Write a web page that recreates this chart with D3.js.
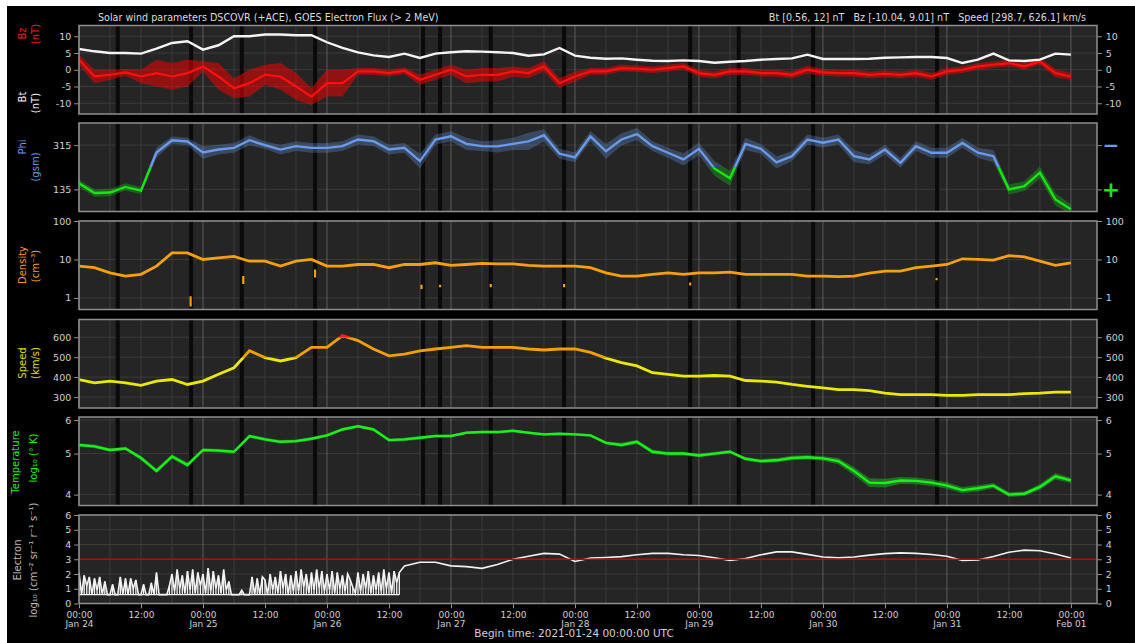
<!DOCTYPE html>
<html>
<head>
<meta charset="utf-8">
<script src="https://cdn.jsdelivr.net/npm/d3@7"></script>
<style>
  html, body { margin: 0; padding: 0; background: #ffffff; }
  svg { display: block; font-family: "DejaVu Sans", sans-serif; }
</style>
</head>
<body>
<svg id="chart" width="1135" height="643"></svg>
<script>
// ---- data: hours since 2021-01-24 00:00 UTC, sampled every 3 h ----
const sampleHours = d3.range(0, 193, 3);

const btValues = [6.2,5.5,5.0,5.0,4.8,6.3,8.0,8.5,6.0,7.3,
  10.0,10.0,10.5,10.5,10.3,10.3,8.2,6.5,5.2,4.3,
  3.8,4.8,3.5,4.8,5.2,5.5,5.4,5.2,5.0,4.2,
  4.6,6.5,4.2,3.6,3.3,3.4,3.0,2.7,2.6,2.8,
  2.6,2.1,2.4,2.6,3.0,3.2,3.4,4.5,3.2,3.2,
  3.2,3.3,3.6,3.7,3.8,3.8,3.5,2.0,3.0,4.8,
  2.8,2.6,3.0,4.8,4.5];

const bzValues = [3.0,-2.0,-1.5,-0.8,-2.0,-1.0,-2.0,-1.0,1.0,-2.0,
  -5.5,-4.0,-1.5,-2.0,-5.0,-8.0,-4.0,-4.0,-0.5,-0.5,
  -1.0,-0.3,-3.0,-1.5,0.0,-2.0,-1.5,-1.5,-0.5,-1.0,
  1.0,-4.0,-2.0,-0.5,-0.5,0.5,0.3,0.0,0.5,1.0,
  -1.0,-1.5,-0.5,-0.5,-1.0,-1.0,-1.5,0.0,-0.8,-1.0,
  -1.0,-1.5,-1.2,-1.5,-1.0,-2.0,-0.5,0.0,1.0,1.5,
  2.0,1.0,2.5,-1.0,-2.0];

const bzSpread = [1.5,2,1.5,1,2,4,4,4,1.5,4,
  3,4,3,4,4,2.5,4,4,1,1,
  1,1,1.5,1.5,1.5,2,2,2,1.5,1.5,
  1.5,1.5,1.5,1,1,1,1,1,1,1,
  1,1,1,1,1,1,1,1.2,1,1,
  1,1,1,1,1,1,1,1,1,1,
  1,1,1,1.2,1];

const phiValues = [160,120,122,145,130,285,335,330,285,297,
  304,335,315,297,311,304,304,311,338,331,
  297,304,250,338,351,320,311,310,320,330,
  355,280,265,351,290,338,360,311,284,257,
  300,220,180,320,300,245,270,338,325,338,
  270,257,297,243,311,284,284,324,284,270,
  135,148,203,94,54];

const phiSpread = [15,15,15,15,15,20,15,15,25,20,
  20,20,15,20,20,20,20,20,20,20,
  20,20,30,20,20,25,20,25,25,35,
  25,20,20,20,30,25,25,20,20,25,
  25,30,30,25,20,25,20,20,20,20,
  25,20,20,20,20,20,20,20,20,25,
  20,20,25,25,20];

const densityValues = [6.7,6.1,4.5,3.7,4.1,6.7,14.8,14.8,10,11,
  12,9,9,6.7,9,10,6.7,6.7,7.4,7.4,
  6.1,7.4,7.4,8.2,7,7.4,7.9,7.7,7.7,7,
  6.7,6.7,6.7,6.1,4.5,3.7,3.7,4.1,4.5,4.1,
  4.5,4.5,4.7,4.1,4.1,4.1,4.1,3.7,3.7,3.6,
  3.7,4.4,5.0,5.0,6.1,6.7,7.4,10.4,10,9.6,
  12.6,11.7,9,7,8.2];

// short low-density excursions: [hour, low, high]
const densityDrops = [[21.6,0.6,1.1],[31.8,2.3,3.7],[45.7,3.4,5.5],[66.3,1.7,2.2],
  [69.9,1.9,2.2],[79.7,1.9,2.3],[93.9,1.9,2.3],[118.3,2.1,2.5],[166.0,2.9,3.3]];

const speedValues = [388,371,380,371,359,380,388,363,380,414,
  447,532,498,481,498,549,549,608,583,541,
  507,515,532,541,549,558,549,549,549,541,
  536,541,541,524,495,473,456,422,414,405,
  405,408,405,383,380,375,363,354,346,337,
  337,332,320,312,312,312,308,308,312,312,
  312,317,320,325,325];

const tempValues = [5.24,5.2,5.1,5.14,4.88,4.55,4.92,4.7,5.1,5.08,
  5.05,5.5,5.4,5.33,5.35,5.42,5.52,5.7,5.8,5.7,
  5.38,5.4,5.45,5.5,5.5,5.6,5.62,5.62,5.66,5.6,
  5.55,5.57,5.55,5.52,5.3,5.24,5.33,5.05,5.0,5.0,
  4.95,5.0,5.05,4.86,4.8,4.82,4.88,4.9,4.87,4.8,
  4.55,4.27,4.26,4.32,4.31,4.27,4.2,4.1,4.14,4.2,
  4.0,4.02,4.17,4.42,4.32];

const tempSpread = [0.05,0.05,0.05,0.05,0.06,0.06,0.06,0.06,0.05,0.05,
  0.05,0.05,0.05,0.05,0.05,0.05,0.05,0.05,0.05,0.05,
  0.05,0.05,0.05,0.04,0.04,0.04,0.04,0.04,0.04,0.04,
  0.04,0.04,0.04,0.04,0.05,0.06,0.06,0.06,0.05,0.05,
  0.05,0.05,0.05,0.05,0.05,0.06,0.06,0.06,0.06,0.08,
  0.1,0.1,0.1,0.08,0.08,0.08,0.07,0.07,0.07,0.06,
  0.05,0.05,0.07,0.08,0.06];

// electron flux, bursty part at 0.5 h steps (0 h .. 62 h)
const electronBurstValues = [
  2.1,0.6,1.9,1.2,1.8,0.6,1.7,0.9,1.8,0.6,1.5,0.6,
  0.6,1.3,0.6,0.6,
  1.8,0.6,1.7,0.6,1.7,1.0,1.6,0.6,
  0.6,1.3,0.6,0.6,1.4,0.6,
  2.1,0.6,0.6,0.6,0.6,1.2,
  2.0,0.8,2.3,1.0,1.9,0.7,2.2,0.9,
  2.3,0.7,2.1,1.2,2.0,0.7,2.4,0.8,2.2,1.0,1.9,0.7,2.3,0.9,1.5,0.6,
  0.6,0.6,0.6,0.9,0.6,0.6,
  0.6,1.8,0.6,1.7,0.6,1.8,
  1.6,0.6,2.0,0.9,1.8,0.7,2.2,1.0,2.0,0.6,1.9,0.8,
  2.2,0.8,2.3,1.1,2.0,0.7,2.1,0.9,2.3,1.0,2.2,0.8,
  2.0,0.9,2.2,0.7,2.1,1.0,1.9,0.8,
  2.0,1.6,1.1,0.7,
  2.1,0.8,2.0,1.0,2.2,0.7,1.9,0.9,2.1,0.8,2.3,1.0,2.1,0.7,2.2,1.4,
  2.1];
const electronBurstHours = d3.range(0, 62.01, 0.5);
// electron flux, smooth part at 3 h steps (63 h .. 192 h)
const electronHours = d3.range(63, 193, 3);
const electronValues = [2.55,2.8,2.8,2.55,2.5,2.38,2.65,3.0,3.2,3.4,
  3.35,2.85,3.08,3.12,3.18,3.3,3.4,3.4,3.3,3.25,
  3.1,2.92,3.05,3.3,3.5,3.5,3.33,3.15,3.1,3.15,
  3.28,3.38,3.43,3.4,3.32,3.2,2.92,2.95,3.18,3.48,
  3.62,3.58,3.35,3.08];
const electronThreshold = 3;
const electronBaseline = 0.6;

// data gaps (hours)
const gapHours = [7.5,21.7,31.5,45.7,66.6,69.9,79.7,93.9,118.3,127.7,142.1,166.1];

const titleLeft = "Solar wind parameters DSCOVR (+ACE), GOES Electron Flux (> 2 MeV)";
const titleRight = "Bt [0.56, 12] nT   Bz [-10.04, 9.01] nT   Speed [298.7, 626.1] km/s";
const beginLabel = "Begin time: 2021-01-24 00:00:00 UTC";

// ---- layout ----
const svg = d3.select("#chart");
const t0 = Date.UTC(2021, 0, 24);
const HOUR = 3600e3;
const plotLeft = 79, plotRight = 1097, panelH = 88.5;
const x = d3.scaleUtc()
  .domain([new Date(t0), new Date(t0 + 197.05 * HOUR)])
  .range([plotLeft, plotRight]);
const xh = h => x(new Date(t0 + h * HOUR));
const plain = d => String(d);   // keeps ASCII hyphen for negatives

svg.append("rect").attr("x", 7).attr("y", 6).attr("width", 1128).attr("height", 637).attr("fill", "#000");

const panels = [
  { key: "mag",  top: 25.5, y: d3.scaleLinear().domain([-13.2, 13.2]), ticks: [-10, -5, 0, 5, 10] },
  { key: "phi",  top: 123,  y: d3.scaleLinear().domain([45, 405]),     ticks: [135, 315], noRightLabels: true },
  { key: "dens", top: 221,  y: d3.scaleLog().domain([0.5, 100]),        ticks: [1, 10, 100] },
  { key: "spd",  top: 319.5,y: d3.scaleLinear().domain([245, 689]),     ticks: [300, 400, 500, 600] },
  { key: "temp", top: 417,  y: d3.scaleLog().domain([3.77, 6.1]),       ticks: [4, 5, 6] },
  { key: "elec", top: 515,  y: d3.scaleLinear().domain([0, 6]),         ticks: [0, 1, 2, 3, 4, 5, 6], noGaps: true }
];
panels.forEach(p => p.y.range([p.top + panelH, p.top]));
const P = Object.fromEntries(panels.map(p => [p.key, p]));

const defs = svg.append("defs");
function clipRect(id, y0, y1) {
  defs.append("clipPath").attr("id", id).append("rect")
    .attr("x", plotLeft).attr("y", Math.min(y0, y1))
    .attr("width", plotRight - plotLeft).attr("height", Math.abs(y1 - y0));
  return `url(#${id})`;
}

const gridHours = d3.range(0, 197, 6);

panels.forEach(p => {
  const g = svg.append("g");
  g.append("rect").attr("x", plotLeft).attr("y", p.top).attr("width", plotRight - plotLeft)
    .attr("height", panelH).attr("fill", "#252525");
  p.clip = clipRect("clip-" + p.key, p.top, p.top + panelH);
  g.selectAll(".hg").data(p.ticks).join("line")
    .attr("x1", plotLeft).attr("x2", plotRight)
    .attr("y1", d => p.y(d)).attr("y2", d => p.y(d))
    .attr("stroke", "#3b3b3b").attr("stroke-width", 1);
  g.selectAll(".vg").data(gridHours).join("line")
    .attr("x1", d => xh(d)).attr("x2", d => xh(d))
    .attr("y1", p.top).attr("y2", p.top + panelH)
    .attr("stroke", d => d % 24 === 0 ? "#5c5c5c" : "#3b3b3b").attr("stroke-width", 1);
  if (!p.noGaps) {
    g.selectAll(".gap").data(gapHours).join("rect")
      .attr("x", d => xh(d) - 2).attr("width", 4)
      .attr("y", p.top).attr("height", panelH)
      .attr("fill", "#0a0a0a");
  }
  p.layer = svg.append("g").attr("clip-path", p.clip);
});

const pts = (vals, hours = sampleHours) => vals.map((v, i) => [hours[i], v]);

// ---- Bz / Bt ----
{
  const p = P.mag;
  const band = d3.area().x(d => xh(d[0])).y0(d => p.y(d[1] - d[2])).y1(d => p.y(d[1] + d[2]));
  p.layer.append("path").datum(bzValues.map((v, i) => [sampleHours[i], v, bzSpread[i]]))
    .attr("d", band).attr("fill", "#ff0000").attr("opacity", 0.5);
  p.layer.append("path").datum(pts(bzValues))
    .attr("d", d3.line().x(d => xh(d[0])).y(d => p.y(d[1])))
    .attr("fill", "none").attr("stroke", "#ff1010").attr("stroke-width", 2.2);
  p.layer.append("path").datum(pts(btValues))
    .attr("d", d3.line().x(d => xh(d[0])).y(d => p.y(d[1])))
    .attr("fill", "none").attr("stroke", "#f4f4f4").attr("stroke-width", 2.4);
}

// ---- Phi ----
{
  const p = P.phi;
  const split = p.y(225);
  const parts = [
    { clip: clipRect("phi-neg", p.top, split), color: "#6b9ae8" },
    { clip: clipRect("phi-pos", split, p.top + panelH), color: "#18e418" }
  ];
  const band = d3.area().x(d => xh(d[0])).y0(d => p.y(d[1] - d[2])).y1(d => p.y(d[1] + d[2]));
  const line = d3.line().x(d => xh(d[0])).y(d => p.y(d[1]));
  const bandData = phiValues.map((v, i) => [sampleHours[i], v, phiSpread[i]]);
  parts.forEach(part => {
    const g = p.layer.append("g").attr("clip-path", part.clip);
    g.append("path").datum(bandData).attr("d", band).attr("fill", part.color).attr("opacity", 0.3);
    g.append("path").datum(pts(phiValues)).attr("d", line)
      .attr("fill", "none").attr("stroke", part.color).attr("stroke-width", 2.4);
  });
}

// ---- Density ----
{
  const p = P.dens;
  p.layer.append("path").datum(pts(densityValues))
    .attr("d", d3.line().x(d => xh(d[0])).y(d => p.y(d[1])))
    .attr("fill", "none").attr("stroke", "#f5a00c").attr("stroke-width", 2.8);
  p.layer.selectAll(".drop").data(densityDrops).join("line")
    .attr("x1", d => xh(d[0])).attr("x2", d => xh(d[0]))
    .attr("y1", d => p.y(d[1])).attr("y2", d => p.y(d[2]))
    .attr("stroke", "#f5a00c").attr("stroke-width", 2.2);
}

// ---- Speed ----
{
  const p = P.spd;
  const parts = [
    { clip: clipRect("spd-lo", p.y(500), p.top + panelH), color: "#eaea00" },
    { clip: clipRect("spd-mid", p.y(600), p.y(500)), color: "#f2a000" },
    { clip: clipRect("spd-hi", p.top, p.y(600)), color: "#ff1a1a" }
  ];
  const line = d3.line().x(d => xh(d[0])).y(d => p.y(d[1]));
  parts.forEach(part => {
    p.layer.append("g").attr("clip-path", part.clip)
      .append("path").datum(pts(speedValues)).attr("d", line)
      .attr("fill", "none").attr("stroke", part.color).attr("stroke-width", 2.8);
  });
}

// ---- Temperature ----
{
  const p = P.temp;
  const band = d3.area().x(d => xh(d[0])).y0(d => p.y(d[1] - d[2])).y1(d => p.y(d[1] + d[2]));
  p.layer.append("path").datum(tempValues.map((v, i) => [sampleHours[i], v, tempSpread[i]]))
    .attr("d", band).attr("fill", "#16e016").attr("opacity", 0.4);
  p.layer.append("path").datum(pts(tempValues))
    .attr("d", d3.line().x(d => xh(d[0])).y(d => p.y(d[1])))
    .attr("fill", "none").attr("stroke", "#1cf01c").attr("stroke-width", 2.4);
}

// ---- Electron flux ----
{
  const p = P.elec;
  const burst = pts(electronBurstValues, electronBurstHours);
  // each burst sample as a spike from the baseline
  p.layer.selectAll(".spike").data(burst).join("line")
    .attr("x1", d => xh(d[0])).attr("x2", d => xh(d[0]))
    .attr("y1", p.y(electronBaseline)).attr("y2", d => p.y(d[1]))
    .attr("stroke", "#f4f4f4").attr("stroke-width", 1.3);
  const all = burst.concat(pts(electronValues, electronHours));
  p.layer.append("path").datum(all)
    .attr("d", d3.line().x(d => xh(d[0])).y(d => p.y(d[1])))
    .attr("fill", "none").attr("stroke", "#f2f2f2").attr("stroke-width", 1.6);
  p.layer.append("line")
    .attr("x1", plotLeft).attr("x2", plotRight)
    .attr("y1", p.y(electronThreshold)).attr("y2", p.y(electronThreshold))
    .attr("stroke", "#c80000").attr("stroke-width", 1.6);
  p.layer.append("line")
    .attr("x1", plotLeft).attr("x2", xh(62))
    .attr("y1", p.y(electronBaseline)).attr("y2", p.y(electronBaseline))
    .attr("stroke", "#f2f2f2").attr("stroke-width", 1.4);
}

// ---- frames and axes ----
const tickColor = "#9a9a9a", labelColor = "#d0d0d0";
function styleAxis(g) {
  g.select(".domain").remove();
  g.selectAll(".tick line").attr("stroke", tickColor).attr("stroke-width", 1);
  g.selectAll(".tick text").attr("fill", labelColor).attr("font-size", 9.5)
    .attr("font-family", "DejaVu Sans, sans-serif");
}
panels.forEach(p => {
  svg.append("rect").attr("x", plotLeft).attr("y", p.top).attr("width", plotRight - plotLeft)
    .attr("height", panelH).attr("fill", "none").attr("stroke", "#8e8e8e").attr("stroke-width", 1.5);
  svg.append("g").attr("transform", `translate(${plotLeft - 0.75},0)`)
    .call(d3.axisLeft(p.y).tickValues(p.ticks).tickFormat(plain).tickSize(4).tickPadding(3))
    .call(styleAxis);
  svg.append("g").attr("transform", `translate(${plotRight + 0.75},0)`)
    .call(d3.axisRight(p.y).tickValues(p.ticks).tickFormat(p.noRightLabels ? () => "" : plain).tickSize(4).tickPadding(4))
    .call(styleAxis);
});

// polarity markers on the phi panel
svg.append("text").attr("x", 1111).attr("y", P.phi.y(315)).attr("dy", "0.35em")
  .attr("text-anchor", "middle").attr("fill", "#6b9ae8").attr("font-size", 20).attr("font-weight", "bold").text("−");
svg.append("text").attr("x", 1111).attr("y", P.phi.y(135)).attr("dy", "0.36em")
  .attr("text-anchor", "middle").attr("fill", "#18e418").attr("font-size", 22).attr("font-weight", "bold").text("+");

// time axis
const xAxis = svg.append("g").attr("transform", `translate(0,${P.elec.top + panelH + 0.75})`)
  .call(d3.axisBottom(x).ticks(d3.utcHour.every(12)).tickSize(4).tickPadding(3)
    .tickFormat(d3.utcFormat("%H:%M")))
  .call(styleAxis);
xAxis.selectAll(".tick text").attr("font-size", 9).each(function(d) {
  if (d.getUTCHours() === 0) {
    d3.select(this).append("tspan").attr("x", 0).attr("dy", "1.05em").text(d3.utcFormat("%b %d")(d));
  }
});

// titles
svg.append("text").attr("x", 98).attr("y", 20.5).attr("fill", "#dcdcdc").attr("font-size", 9.6).text(titleLeft);
svg.append("text").attr("x", 1086).attr("y", 20.5).attr("text-anchor", "end").attr("fill", "#dcdcdc")
  .attr("font-size", 9.6).style("white-space", "pre").text(titleRight);
svg.append("text").attr("x", 574).attr("y", 637).attr("text-anchor", "middle").attr("fill", "#d0d0d0")
  .attr("font-size", 10.5).text(beginLabel);

// axis titles (rotated)
const yLabels = [
  { x: 22, y: 33.5, text: "Bz", color: "#ff1a1a" },
  { x: 35, y: 34,   text: "(nT)", color: "#ff1a1a" },
  { x: 22, y: 97,   text: "Bt", color: "#f2f2f2" },
  { x: 35, y: 103,  text: "(nT)", color: "#f2f2f2" },
  { x: 22, y: 147,  text: "Phi", color: "#6b9ae8" },
  { x: 35, y: 167,  text: "(gsm)", color: "#6b9ae8" },
  { x: 22, y: 265,  text: "Density", color: "#f5a00c" },
  { x: 35, y: 266,  text: "(cm⁻³)", color: "#f5a00c" },
  { x: 22, y: 363,  text: "Speed", color: "#e0e000" },
  { x: 35, y: 363,  text: "(km/s)", color: "#e0e000" },
  { x: 15, y: 462,  text: "Temperature", color: "#1cf01c" },
  { x: 33, y: 458,  text: "log₁₀ (° K)", color: "#1cf01c" },
  { x: 17, y: 560,  text: "Electron", color: "#bdbdbd" },
  { x: 33, y: 560,  text: "log₁₀ (cm⁻² sr⁻¹ r⁻¹ s⁻¹)", color: "#bdbdbd" }
];
svg.selectAll(".ylab").data(yLabels).join("text")
  .attr("transform", d => `translate(${d.x},${d.y}) rotate(-90)`)
  .attr("text-anchor", "middle").attr("dy", "0.35em")
  .attr("fill", d => d.color).attr("font-size", 10).text(d => d.text);
</script>
</body>
</html>
